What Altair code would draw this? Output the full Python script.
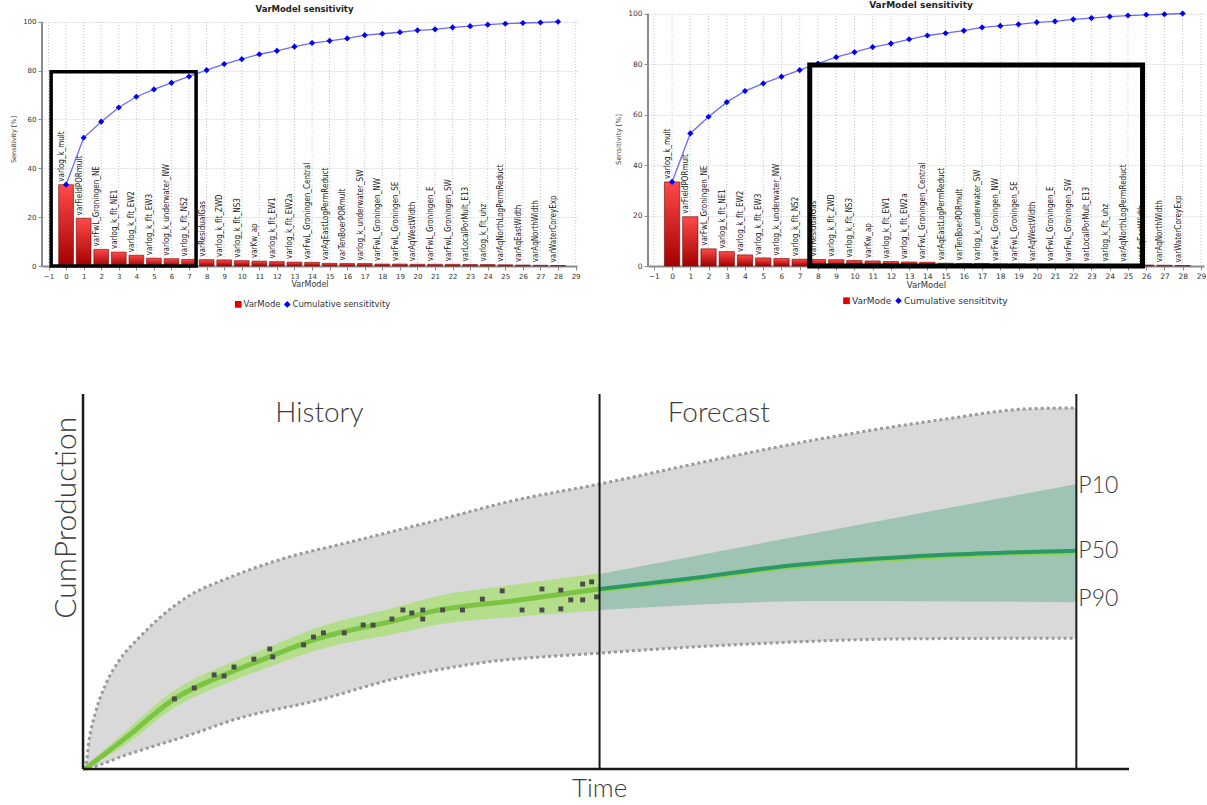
import altair as alt
import pandas as pd

# ---------------- sensitivity (pareto) data ----------------
VAR_NAMES = [
    "varlog_k_mult", "varFieldPORmult", "varFwL_Groningen_NE", "varlog_k_flt_NE1",
    "varlog_k_flt_EW2", "varlog_k_flt_EW3", "varlog_k_underwater_NW", "varlog_k_flt_NS2",
    "varResidualGas", "varlog_k_flt_ZWD", "varlog_k_flt_NS3", "varKw_ap",
    "varlog_k_flt_EW1", "varlog_k_flt_EW2a", "varFwL_Groningen_Central", "varAqEastLogPermReduct",
    "varTenBoerPORmult", "varlog_k_underwater_SW", "varFwL_Groningen_NW", "varFwL_Groningen_SE",
    "varAqWestWidth", "varFwL_Groningen_E", "varFwL_Groningen_SW", "varLocalPorMult_E13",
    "varlog_k_flt_uhz", "varAqNorthLogPermReduct", "varAqEastWidth", "varAqNorthWidth",
    "varWaterCoreyExp",
]
SENSITIVITY = [33.3, 19.5, 6.8, 5.7, 4.4, 3.2, 3.0, 2.7, 2.6, 2.5, 2.2, 2.0, 1.8, 1.6,
               1.5, 1.1, 1.0, 1.0, 0.8, 0.8, 0.7, 0.7, 0.7, 0.6, 0.6, 0.5, 0.4, 0.3, 0.2]
CUMULATIVE = [33.3, 52.5, 59.1, 64.9, 69.3, 72.3, 75.0, 77.6, 80.2, 82.7, 84.7, 86.7, 88.1, 89.8,
              91.3, 92.2, 93.2, 94.5, 95.1, 95.7, 96.5, 96.9, 97.7, 98.2, 98.8, 99.2, 99.5, 99.7, 100.0]
TICKS = list(range(-1, 30))
Y_TICKS = [0, 20, 40, 60, 80, 100]
LEFT_BOX = [-0.85, 7.4, 0, 79.5]
RIGHT_BOX = [7.55, 25.8, 0, 79.6]
TITLE = "VarModel sensitivity"
SERIES = ["VarMode", "Cumulative sensititvity"]

# ---------------- production forecast schematic data ----------------
UPPER_T = [0, 0.3, 0.6, 1.3, 2.3, 3.6, 5.6, 7.7, 11.0, 14.4, 19.4, 27.3, 35.3, 43.2, 52.0,
           62.9, 74.8, 86.8, 94.8, 100.0]
UPPER_V = [0, 1.3, 7.5, 15.5, 22.7, 28.8, 34.9, 40.3, 46.7, 50.7, 55.5, 60.8, 66.1, 71.5, 76.0,
           82.1, 88.3, 93.3, 96.0, 96.3]
LOWER_T = [0, 0.6, 4.3, 11.0, 15.4, 23.6, 31.3, 39.2, 52.0, 66.8, 82.8, 100.0]
LOWER_V = [0, 0.3, 3.7, 9.3, 13.3, 18.3, 24.0, 28.0, 30.9, 33.3, 34.7, 34.9]
HIST_T = [0.2, 4.3, 9.2, 14.4, 17.7, 23.8, 31.3, 35.3, 43.2, 52.0]
HIST_P50 = [0.0, 8.3, 18.7, 25.3, 28.8, 34.9, 39.5, 42.1, 44.8, 48.0]
HIST_LO = [0.0, 6.5, 16.4, 22.8, 26.2, 31.9, 36.0, 38.3, 40.5, 42.3]
HIST_HI = [0.8, 10.1, 21.0, 27.8, 31.4, 37.9, 43.0, 45.9, 49.1, 52.2]
FC_T = [52.0, 60.9, 70.1, 86.8, 100.0]
FC_P50 = [47.7, 50.4, 53.6, 56.8, 57.9]
FC_BAND_T = [52.0, 74.8, 100.0]
FC_P90 = [42.4, 44.8, 44.5]
FC_P10 = [52.0, 63.5, 76.0]
OBS_T = [9.2, 11.2, 13.2, 14.2, 15.2, 17.2, 18.8, 19.1, 22.2, 23.2, 24.2, 26.3, 28.2, 29.2,
         31.1, 32.2, 33.1, 34.2, 34.2, 36.2, 38.2, 40.2, 42.2, 44.2, 46.2, 46.2, 48.1, 48.1,
         49.1, 50.3, 50.3, 51.2, 51.7]
OBS_V = [18.7, 21.6, 25.1, 24.8, 27.2, 29.3, 32.0, 29.9, 33.1, 35.2, 36.3, 36.3, 38.4, 38.4,
         40.0, 42.4, 41.6, 42.4, 40.0, 42.4, 42.4, 45.3, 47.5, 42.4, 48.0, 42.4, 47.7, 42.7,
         45.1, 49.3, 45.1, 49.9, 45.9]
DIVIDERS_T = [52.0, 100.0]
AXIS_X_END = 105.3
AXIS_Y_TOP = 100
HEADERS = ["History", "Forecast"]
HEADER_T = [23.8, 64.0]
HEADER_V = [94.7, 94.7]
P_LABELS = ["P10", "P50", "P90"]
P_LABEL_V = [75.5, 58.1, 45.3]
P_LABEL_T = 100.0

TXT = "#3c3c3c"
AX = "#8c8c8c"
GRAD = alt.Gradient(
    gradient="linear",
    stops=[alt.GradientStop(offset=0, color="#ff4a4a"), alt.GradientStop(offset=1, color="#a30000")],
    x1=0, x2=0, y1=0, y2=1,
)

n = len(VAR_NAMES)
bar_df = pd.DataFrame({"idx": list(range(n)), "name": VAR_NAMES, "sens": SENSITIVITY,
                       "zero": [0.0] * n})
cum_df = pd.DataFrame({"idx": list(range(n)), "cum": CUMULATIVE, "series": [SERIES[1]] * n})
tick_df = pd.DataFrame({"tick": TICKS, "y0": [0] * len(TICKS), "y1": [100] * len(TICKS)})
title_df = pd.DataFrame({"t": [TITLE]})


def sens_panel(xmin, xmax, ymax, w, h, box, box_w, title_y, leg_x, leg_y, fs):
    xs = alt.Scale(domain=[xmin, xmax], nice=False, zero=False)
    ys = alt.Scale(domain=[0, ymax], nice=False)
    xax = alt.Axis(
        values=TICKS, format="d", title="VarModel", grid=False, domainColor=AX, domainWidth=2,
        tickColor=AX, tickSize=4, labelFontSize=fs, labelColor="#333", labelFont="DejaVu Sans",
        titleFontSize=fs + 1, titleFont="DejaVu Sans", titleColor="#333", titleFontWeight="normal",
        labelPadding=2, titlePadding=1, labelFlush=False, labelOverlap=False)
    yax = alt.Axis(
        values=Y_TICKS, title="Sensitivity [%]", grid=True, gridColor="#c6c6c6", gridDash=[1, 2],
        domain=False, tickColor=AX, tickSize=4, labelFontSize=fs, labelColor="#333",
        labelFont="DejaVu Sans", titleFontSize=fs - 0.5, titleFont="DejaVu Sans", titleColor="#444",
        titleFontWeight="normal", labelPadding=2, titlePadding=6)
    XS = lambda f: alt.X(f, scale=xs, axis=xax)
    YS = lambda f: alt.Y(f, scale=ys, axis=yax)
    grid_x = alt.Chart(tick_df).mark_rule(color="#c6c6c6", strokeDash=[1, 2], strokeWidth=1).encode(
        x=XS("tick:Q"), y=YS("y0:Q"), y2="y1:Q")
    yl_df = pd.DataFrame({"x": [xmin], "y0": [0], "y1": [100]})
    yline = alt.Chart(yl_df).mark_rule(color=AX, strokeWidth=2).encode(
        x=XS("x:Q"), y=YS("y0:Q"), y2="y1:Q")
    bars = alt.Chart(bar_df).transform_calculate(
        x0="datum.idx - 0.42", x1="datum.idx + 0.42"
    ).mark_rect(fill=GRAD, stroke="#700000", strokeWidth=0.6).encode(
        x=XS("x0:Q"), x2="x1:Q", y=YS("sens:Q"), y2="zero:Q")
    labels = alt.Chart(bar_df).mark_text(
        angle=270, align="left", baseline="bottom", dx=3, fontSize=8,
        font="Liberation Sans Narrow, DejaVu Sans Condensed, sans-serif", color="#1a1a1a"
    ).encode(x=XS("idx:Q"), y=YS("sens:Q"), text="name:N")
    line = alt.Chart(cum_df).mark_line(color="#6a6aff", strokeWidth=1.3).encode(
        x=XS("idx:Q"), y=YS("cum:Q"))
    leg = alt.Legend(orient="none", legendX=leg_x, legendY=leg_y, direction="horizontal", title=None,
                     labelFont="DejaVu Sans", labelFontSize=fs + 1.5, labelColor="#333",
                     symbolSize=45, columnPadding=2, labelOffset=1, symbolStrokeWidth=0)
    pts = alt.Chart(cum_df).mark_point(filled=True, size=38, opacity=1).encode(
        x=XS("idx:Q"), y=YS("cum:Q"),
        color=alt.Color("series:N", scale=alt.Scale(domain=SERIES, range=["#e00000", "#0000f0"]), legend=leg),
        shape=alt.Shape("series:N", scale=alt.Scale(domain=SERIES, range=["square", "diamond"]), legend=leg),
    )
    box_df = pd.DataFrame({"x0": [box[0]], "x1": [box[1]], "y0": [box[2]], "y1": [box[3]]})
    boxm = alt.Chart(box_df).mark_rect(fillOpacity=0, stroke="black", strokeWidth=box_w).encode(
        x=XS("x0:Q"), x2="x1:Q", y=YS("y0:Q"), y2="y1:Q")
    title = alt.Chart(title_df).mark_text(
        fontSize=fs + 1.5, fontWeight="bold", font="DejaVu Sans", color="#222", baseline="middle"
    ).encode(x=alt.value(w / 2 - 5), y=alt.value(title_y), text="t:N")
    return alt.layer(grid_x, yline, bars, labels, line, pts, boxm, title).properties(width=w, height=h)


left = sens_panel(-1.37, 29.08, 104.0, 535, 254, LEFT_BOX, 3.5, -3, 192, 288, 7)
right = sens_panel(-1.32, 29.17, 100.6, 556, 254, RIGHT_BOX, 5.0, -7, 194, 284, 7.5)

top = alt.hconcat(left, right, spacing=33).resolve_scale(
    x="independent", y="independent", color="independent", shape="independent"
).resolve_legend(color="independent", shape="independent")

# ---------------- bottom schematic ----------------
xb = alt.Scale(domain=[-4.13, 105.3], nice=False, zero=False)
yb = alt.Scale(domain=[0, 100], nice=False)
X = lambda f: alt.X(f, scale=xb, axis=None)
Y = lambda f: alt.Y(f, scale=yb, axis=None)

up_df = pd.DataFrame({"t": UPPER_T, "v": UPPER_V, "base": [0.0] * len(UPPER_T)})
lo_df = pd.DataFrame({"t": LOWER_T, "v": LOWER_V, "base": [0.0] * len(LOWER_T)})
hist_df = pd.DataFrame({"t": HIST_T, "p50": HIST_P50, "lo": HIST_LO, "hi": HIST_HI})
fc_df = pd.DataFrame({"t": FC_T, "p50": FC_P50})
fcb_df = pd.DataFrame({"t": FC_BAND_T, "lo": FC_P90, "hi": FC_P10})
obs_df = pd.DataFrame({"t": OBS_T, "v": OBS_V})
div_df = pd.DataFrame({"t": DIVIDERS_T, "y0": [0, 0], "y1": [AXIS_Y_TOP, AXIS_Y_TOP]})
yax_df = pd.DataFrame({"t": [0.0], "y0": [0], "y1": [AXIS_Y_TOP]})
xax_df = pd.DataFrame({"t0": [0.0], "t1": [AXIS_X_END], "v": [0]})
head_df = pd.DataFrame({"t": HEADER_T, "v": HEADER_V, "label": HEADERS})
p_df = pd.DataFrame({"t": [P_LABEL_T] * 3, "v": P_LABEL_V, "label": P_LABELS})

gray = alt.Chart(up_df).mark_area(color="#d9d9d9", interpolate="monotone", opacity=1).encode(
    x=X("t:Q"), y=Y("v:Q"), y2="base:Q")
white = alt.Chart(lo_df).mark_area(color="#ffffff", interpolate="monotone", opacity=1).encode(
    x=X("t:Q"), y=Y("v:Q"), y2="base:Q")
dot_up = alt.Chart(up_df).mark_line(color="#9a9a9a", strokeWidth=3, strokeDash=[3, 3],
                                    interpolate="monotone").encode(x=X("t:Q"), y=Y("v:Q"))
dot_lo = alt.Chart(lo_df).mark_line(color="#9a9a9a", strokeWidth=3, strokeDash=[3, 3],
                                    interpolate="monotone").encode(x=X("t:Q"), y=Y("v:Q"))
hist_band = alt.Chart(hist_df).mark_area(color="#b4de8c", interpolate="monotone", opacity=1).encode(
    x=X("t:Q"), y=Y("lo:Q"), y2="hi:Q")
fc_band = alt.Chart(fcb_df).mark_area(color="#a0c4b4", interpolate="monotone", opacity=1).encode(
    x=X("t:Q"), y=Y("lo:Q"), y2="hi:Q")
hist_line = alt.Chart(hist_df).mark_line(color="#7cc443", strokeWidth=5, interpolate="monotone").encode(
    x=X("t:Q"), y=Y("p50:Q"))
fc_light = alt.Chart(fc_df).mark_line(color="#8fd14f", strokeWidth=5, interpolate="monotone").encode(
    x=X("t:Q"), y=Y("p50:Q"))
fc_dark = alt.Chart(fc_df).mark_line(color="#2b9966", strokeWidth=4, interpolate="monotone",
                                     yOffset=-1.2).encode(x=X("t:Q"), y=Y("p50:Q"))
obs = alt.Chart(obs_df).mark_square(size=24, color="#4b4b4b", opacity=1).encode(x=X("t:Q"), y=Y("v:Q"))
dividers = alt.Chart(div_df).mark_rule(color="#1a1a1a", strokeWidth=2).encode(
    x=X("t:Q"), y=Y("y0:Q"), y2="y1:Q")
yaxis = alt.Chart(yax_df).mark_rule(color="#1a1a1a", strokeWidth=2.5).encode(
    x=X("t:Q"), y=Y("y0:Q"), y2="y1:Q")
xaxis = alt.Chart(xax_df).mark_rule(color="#1a1a1a", strokeWidth=2.5).encode(
    x=X("t0:Q"), x2="t1:Q", y=Y("v:Q"))
FONT = "Lato, Open Sans, sans-serif"
heads = alt.Chart(head_df).mark_text(fontSize=28, font=FONT, fontWeight=300, color=TXT, baseline="middle").encode(
    x=X("t:Q"), y=Y("v:Q"), text="label:N")
plab = alt.Chart(p_df).mark_text(fontSize=23, font=FONT, fontWeight=300, color=TXT, align="left",
                                 baseline="middle", dx=2).encode(x=X("t:Q"), y=Y("v:Q"), text="label:N")
ylab = alt.Chart(pd.DataFrame({"t": [-1.6], "v": [67.0], "label": ["CumProduction"]})).mark_text(
    fontSize=30, font=FONT, fontWeight=300, color=TXT, angle=270, baseline="middle").encode(
    x=X("t:Q"), y=Y("v:Q"), text="label:N")
xlab = alt.Chart(pd.DataFrame({"t": [52.0], "v": [-5.3], "label": ["Time"]})).mark_text(
    fontSize=26, font=FONT, fontWeight=300, color=TXT, baseline="middle").encode(
    x=X("t:Q"), y=Y("v:Q"), text="label:N")

bottom = alt.layer(gray, white, dot_up, dot_lo, hist_band, fc_band, hist_line, fc_light, fc_dark,
                   obs, dividers, yaxis, xaxis, heads, plab, ylab, xlab).properties(width=1087, height=375)

chart = alt.vconcat(top, bottom, spacing=83).resolve_scale(
    x="independent", y="independent", color="independent", shape="independent"
).resolve_legend(color="independent", shape="independent").properties(
    padding={"left": 10, "top": 1, "right": 0, "bottom": 0}).configure_view(stroke=None)

chart.save("out.html", embed_options={"renderer": "svg", "actions": False})
